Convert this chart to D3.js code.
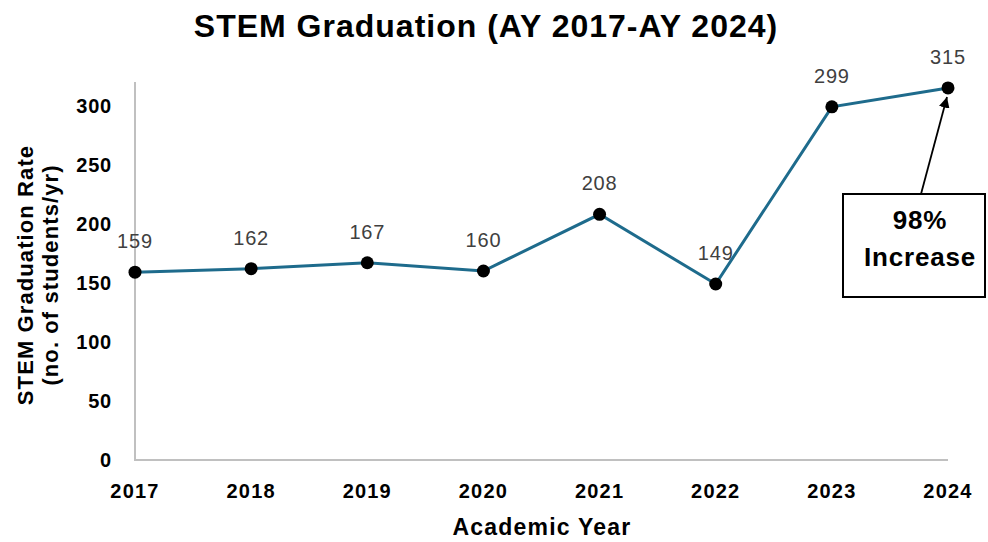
<!DOCTYPE html>
<html>
  <head>
    <title>STEM Graduation</title>
    <style>
      body,
      html {
        margin: 0;
        padding: 0;
        background: #fff;
      }
      text {
        font-family: 'Liberation Sans', Arial, sans-serif;
      }
    </style>
  </head>
  <body>
    <svg id="svg" width="988" height="542"></svg>

    <script src="https://cdn.jsdelivr.net/npm/d3@7"></script>
    <script>
      const years = ['2017', '2018', '2019', '2020', '2021', '2022', '2023', '2024'];
      const graduates = [159, 162, 167, 160, 208, 149, 299, 315];
      const yTicks = [0, 50, 100, 150, 200, 250, 300];

      const svg = d3.select('#svg');

      const xScale = d3.scalePoint().domain(years).range([135, 948]);
      const yScale = d3.scaleLinear().domain([0, 320]).range([460, 82]);

      // axis lines
      svg
        .append('line')
        .attr('x1', 135)
        .attr('x2', 135)
        .attr('y1', yScale(320))
        .attr('y2', yScale(0))
        .attr('stroke', '#c0c0c0')
        .attr('stroke-width', 2);
      svg
        .append('line')
        .attr('x1', 134)
        .attr('x2', 948)
        .attr('y1', yScale(0))
        .attr('y2', yScale(0))
        .attr('stroke', '#c0c0c0')
        .attr('stroke-width', 2);

      // tick labels
      svg
        .selectAll('.ylab')
        .data(yTicks)
        .join('text')
        .attr('x', 112)
        .attr('y', (d) => yScale(d))
        .attr('dy', '0.35em')
        .attr('text-anchor', 'end')
        .attr('font-size', 20)
        .attr('font-weight', 'bold')
        .attr('letter-spacing', 0.8)
        .attr('fill', '#000')
        .text((d) => d);
      svg
        .selectAll('.xlab')
        .data(years)
        .join('text')
        .attr('x', (d) => xScale(d))
        .attr('y', 491)
        .attr('dy', '0.35em')
        .attr('text-anchor', 'middle')
        .attr('font-size', 20)
        .attr('font-weight', 'bold')
        .attr('letter-spacing', 1.2)
        .attr('fill', '#000')
        .text((d) => d);

      const data = years.map((y, i) => ({ year: y, value: graduates[i] }));

      const linegen = d3
        .line()
        .x((d) => xScale(d.year))
        .y((d) => yScale(d.value));

      svg
        .append('path')
        .attr('d', linegen(data))
        .attr('stroke', '#1e6b8c')
        .attr('stroke-width', 3)
        .attr('fill', 'none');

      svg
        .selectAll('.pt')
        .data(data)
        .join('circle')
        .attr('cx', (d) => xScale(d.year))
        .attr('cy', (d) => yScale(d.value))
        .attr('r', 6.5)
        .attr('fill', '#000');

      svg
        .selectAll('.vlab')
        .data(data)
        .join('text')
        .attr('x', (d) => xScale(d.year))
        .attr('y', (d) => yScale(d.value) - 31)
        .attr('dy', '0.35em')
        .attr('text-anchor', 'middle')
        .attr('font-size', 20)
        .attr('letter-spacing', 0.8)
        .attr('fill', '#404040')
        .text((d) => d.value);

      // titles
      svg
        .append('text')
        .attr('x', 486)
        .attr('y', 26)
        .attr('dy', '0.35em')
        .attr('text-anchor', 'middle')
        .attr('font-size', 32)
        .attr('font-weight', 'bold')
        .attr('letter-spacing', 1)
        .text('STEM Graduation (AY 2017-AY 2024)');
      svg
        .append('text')
        .attr('x', 542)
        .attr('y', 527)
        .attr('dy', '0.35em')
        .attr('text-anchor', 'middle')
        .attr('font-size', 23)
        .attr('font-weight', 'bold')
        .attr('letter-spacing', 1.2)
        .text('Academic Year');
      const yTitle = svg
        .append('text')
        .attr('transform', 'translate(25,275) rotate(-90)')
        .attr('text-anchor', 'middle')
        .attr('font-size', 22)
        .attr('font-weight', 'bold')
        .attr('letter-spacing', 1.1);
      yTitle.append('tspan').attr('x', 0).attr('dy', '0.35em').text('STEM Graduation Rate');
      yTitle.append('tspan').attr('x', 0).attr('dy', '1.15em').text('(no. of students/yr)');

      // annotation
      const last = data[data.length - 1];
      svg
        .append('defs')
        .append('marker')
        .attr('id', 'arrow')
        .attr('viewBox', '0 0 10 10')
        .attr('refX', 10)
        .attr('refY', 5)
        .attr('markerWidth', 6)
        .attr('markerHeight', 6)
        .attr('orient', 'auto')
        .append('path')
        .attr('d', 'M0,0 L10,5 L0,10 z')
        .attr('fill', '#000');
      svg
        .append('line')
        .attr('x1', 921)
        .attr('y1', 194)
        .attr('x2', xScale(last.year) - 1)
        .attr('y2', yScale(last.value) + 9)
        .attr('stroke', '#000')
        .attr('stroke-width', 1.8)
        .attr('marker-end', 'url(#arrow)');
      svg
        .append('rect')
        .attr('x', 843)
        .attr('y', 194)
        .attr('width', 142)
        .attr('height', 103)
        .attr('fill', '#fff')
        .attr('stroke', '#000')
        .attr('stroke-width', 2);
      svg
        .append('text')
        .attr('x', 920)
        .attr('y', 220)
        .attr('dy', '0.35em')
        .attr('text-anchor', 'middle')
        .attr('font-size', 26)
        .attr('font-weight', 'bold')
        .attr('letter-spacing', 0.8)
        .text('98%');
      svg
        .append('text')
        .attr('x', 920)
        .attr('y', 257)
        .attr('dy', '0.35em')
        .attr('text-anchor', 'middle')
        .attr('font-size', 26)
        .attr('font-weight', 'bold')
        .attr('letter-spacing', 0.8)
        .text('Increase');
    </script>
  </body>
</html>
